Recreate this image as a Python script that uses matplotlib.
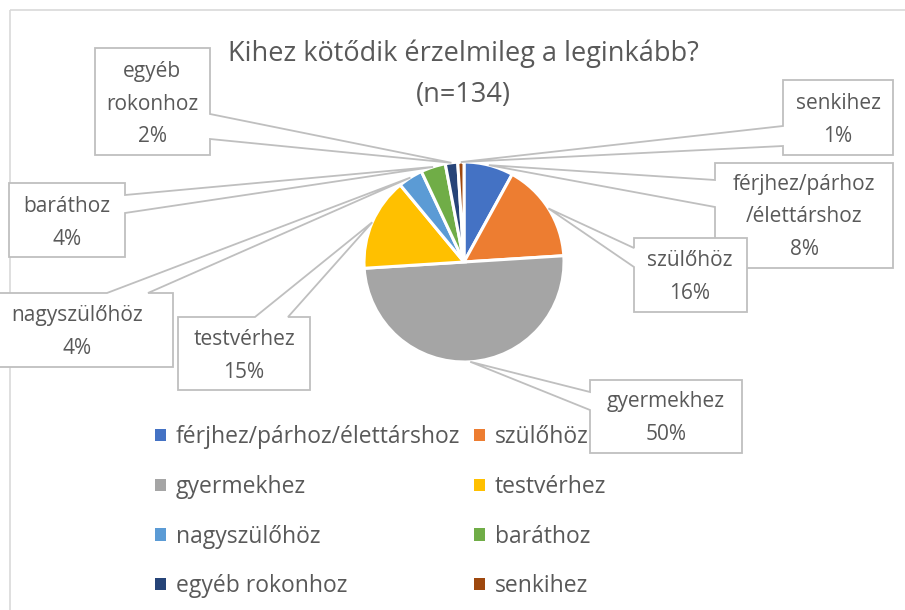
import matplotlib
matplotlib.use('Agg')
import matplotlib.pyplot as plt
from matplotlib.patches import Polygon, Rectangle
import numpy as np

plt.rcParams['font.family'] = ['Open Sans', 'DejaVu Sans']

# data
categories = ['férjhez/párhoz/élettárshoz', 'szülőhöz', 'gyermekhez', 'testvérhez',
              'nagyszülőhöz', 'baráthoz', 'egyéb rokonhoz', 'senkihez']
callout_names = ['férjhez/párhoz\n/élettárshoz', 'szülőhöz', 'gyermekhez', 'testvérhez',
                 'nagyszülőhöz', 'baráthoz', 'egyéb\nrokonhoz', 'senkihez']
percents = [8, 16, 50, 15, 4, 4, 2, 1]
colors = ['#4472C4', '#ED7D31', '#A5A5A5', '#FFC000',
          '#5B9BD5', '#70AD47', '#264478', '#9E480E']
title = 'Kihez kötődik érzelmileg a leginkább?\n(n=134)'

W, H = 905, 610
text_col = '#595959'
line_col = '#BFBFBF'

fig = plt.figure(figsize=(W / 100, H / 100), dpi=100)
ax = fig.add_axes([0, 0, 1, 1])

# pie in pixel coordinates (y axis points down)
cx, cy, r = 464, 262, 100
wedges, _ = ax.pie(percents, colors=colors, center=(cx, cy), radius=r,
                   startangle=-90, counterclock=True,
                   wedgeprops=dict(edgecolor='white', linewidth=2.2))
ax.set_xlim(0, W)
ax.set_ylim(H, 0)
ax.set_aspect('equal')
ax.axis('off')

# chart border
ax.add_patch(Rectangle((10, 10), W + 40, H + 40, fill=False, ec='#D9D9D9', lw=1.2, zorder=0))

ax.text(463, 74, title, ha='center', va='center', fontsize=19.5, color=text_col,
        linespacing=1.6)

# callout boxes: (x0, y0, x1, y1), side of wedge, wedge base (a, b), text centre
callouts = [
    ((715, 163, 893, 268), 'left', (180, 207), (804, 217)),
    ((634, 238, 747, 312), 'left', (248, 267), (690, 277)),
    ((590, 380, 742, 453), 'left', (392, 410), (666, 418)),
    ((178, 317, 310, 390), 'top', (255, 288), (244, 356)),
    ((-20, 293, 173, 367), 'top', (107, 148), (77, 332)),
    ((9, 183, 125, 257), 'right', (195, 213), (67, 223)),
    ((95, 48, 210, 155), 'right', (114, 139), (152, 104)),
    ((783, 80, 893, 155), 'left', (126, 146), (838, 120)),
]


def callout_poly(box, side, base, tip):
    x0, y0, x1, y1 = box
    a, b = base
    if side == 'top':
        return [(x0, y0), (a, y0), tip, (b, y0), (x1, y0), (x1, y1), (x0, y1)]
    if side == 'right':
        return [(x0, y0), (x1, y0), (x1, a), tip, (x1, b), (x1, y1), (x0, y1)]
    if side == 'left':
        return [(x0, y0), (x1, y0), (x1, y1), (x0, y1), (x0, b), tip, (x0, a)]
    return [(x0, y0), (x1, y0), (x1, y1), (b, y1), tip, (a, y1), (x0, y1)]


for i, (w, (box, side, base, tc)) in enumerate(zip(wedges, callouts)):
    th = np.deg2rad((w.theta1 + w.theta2) / 2)
    tip = (cx + 1.0 * r * np.cos(th), cy + 1.0 * r * np.sin(th))
    poly = Polygon(callout_poly(box, side, base, tip), closed=True, fc='white',
                   ec=line_col, lw=1.3, zorder=3 + i)
    ax.add_patch(poly)
    ax.text(tc[0], tc[1], '%s\n%d%%' % (callout_names[i], percents[i]), ha='center',
            va='center', fontsize=15, color=text_col, linespacing=1.7, zorder=3 + i)

order = [0, 2, 4, 6, 1, 3, 5, 7]
leg = ax.legend([wedges[k] for k in order], [categories[k] for k in order], ncol=2,
                loc='upper left', bbox_to_anchor=(144 / W, 1 - 414 / H), frameon=False,
                fontsize=16.5, handlelength=0.45, handleheight=0.45, handletextpad=0.45,
                columnspacing=0.6, labelspacing=1.12, borderpad=0)
for t in leg.get_texts():
    t.set_color(text_col)
for h in leg.legend_handles:
    h.set_edgecolor('none')

fig.savefig('out.png', dpi=100)
